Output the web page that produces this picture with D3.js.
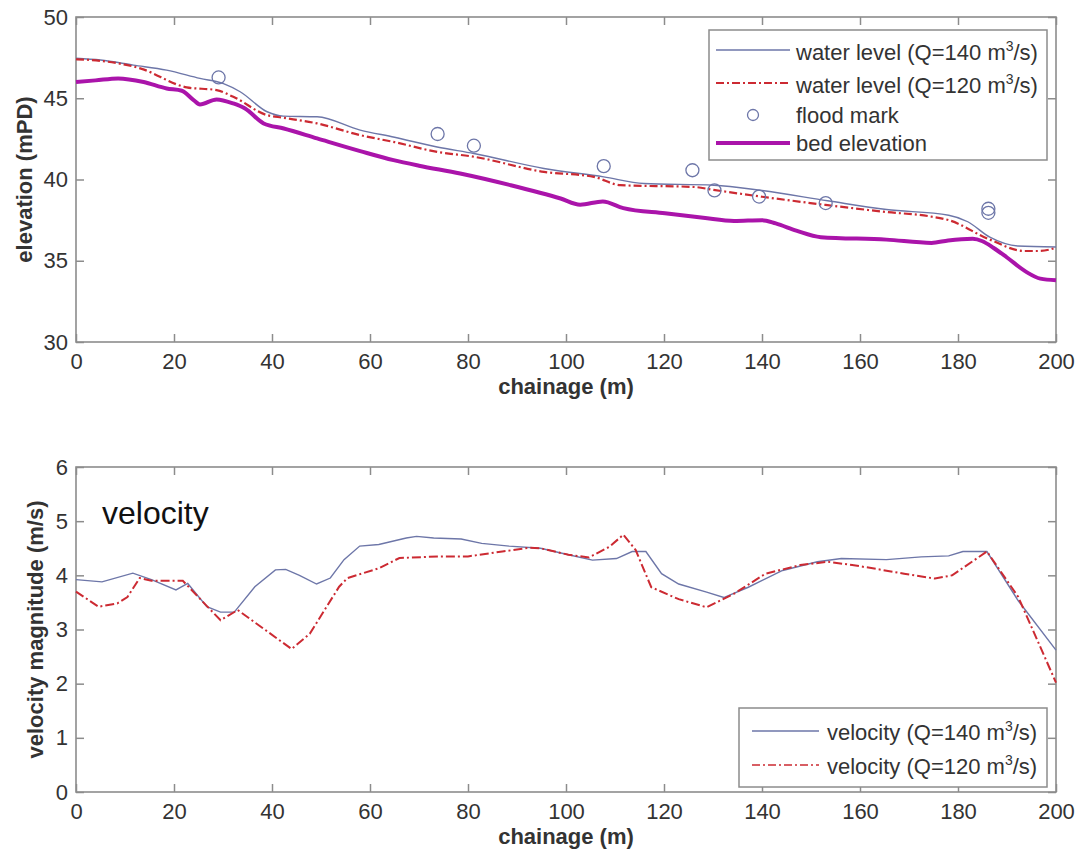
<!DOCTYPE html>
<html>
<head>
<meta charset="utf-8">
<script src="https://cdn.jsdelivr.net/npm/d3@7"></script>
<style>
  html, body { margin: 0; padding: 0; background: #fff; }
  svg { display: block; font-family: "Liberation Sans", Arial, sans-serif; }
</style>
</head>
<body>
<svg id="chart" width="1082" height="857"></svg>
<script>
// ---------------- data ----------------
const chainageTicks = [0, 20, 40, 60, 80, 100, 120, 140, 160, 180, 200];
const elevationTicks = [30, 35, 40, 45, 50];
const velocityTicks = [0, 1, 2, 3, 4, 5, 6];

const bedChainage = [0, 4, 8.6, 13.8, 18.5, 21.6, 24, 25.3, 28.7, 32.1, 34.5, 38.3, 42.4, 49.2, 58, 64.8, 70, 78.4, 88.7, 98.9, 102.9, 107.5, 111.7, 120.2, 128, 134.3, 140, 142.8, 147, 152, 165.4, 174.6, 178, 183, 185, 187.2, 190, 194, 196.8, 200];
const bedElevation = [46.0, 46.1, 46.22, 46.0, 45.6, 45.46, 44.89, 44.62, 44.93, 44.68, 44.37, 43.45, 43.14, 42.53, 41.75, 41.19, 40.85, 40.37, 39.65, 38.83, 38.45, 38.65, 38.24, 37.92, 37.65, 37.45, 37.5, 37.3, 36.85, 36.45, 36.3, 36.1, 36.25, 36.35, 36.2, 35.8, 35.2, 34.3, 33.9, 33.8];

const wl140Chainage = [0, 5, 11.7, 18.5, 25.3, 30.1, 33.5, 39, 42.3, 49.2, 58, 65, 73.7, 81.2, 95.5, 107.7, 115.9, 130.2, 140, 153.4, 165.4, 178.1, 182, 186.5, 192.2, 200];
const wl140Level = [47.46, 47.35, 47.04, 46.73, 46.22, 45.9, 45.4, 44.17, 43.9, 43.86, 43.04, 42.6, 42.0, 41.6, 40.68, 40.16, 39.75, 39.65, 39.32, 38.69, 38.15, 37.8, 37.4, 36.45, 35.91, 35.85];

const wl120Chainage = [0, 5, 13.1, 22.6, 28.7, 32.1, 39, 42.3, 49.2, 58, 65, 73.7, 81.2, 95.5, 105.7, 111.1, 126.1, 130.1, 140, 153.4, 165.4, 174.3, 178.1, 186.5, 193.5, 196.6, 200];
const wl120Level = [47.4, 47.3, 46.84, 45.67, 45.5, 45.09, 43.96, 43.8, 43.45, 42.73, 42.3, 41.7, 41.4, 40.47, 40.16, 39.65, 39.54, 39.36, 38.94, 38.42, 38.0, 37.73, 37.5, 36.3, 35.6, 35.6, 35.8];

const floodChainage = [29.1, 73.8, 81.2, 107.7, 125.8, 130.3, 139.4, 153, 186.2, 186.2];
const floodLevel = [46.28, 42.8, 42.08, 40.82, 40.57, 39.33, 38.95, 38.55, 38.2, 37.95];

const vel140Chainage = [0, 5.3, 11.6, 15.4, 20.4, 22.8, 26.7, 29.5, 32.3, 36.5, 40.7, 42.8, 45.6, 49.1, 51.9, 54.7, 57.9, 61.8, 67.4, 69.5, 73, 78.6, 82.8, 88.4, 94.8, 100.5, 105.4, 110.3, 113.5, 116.3, 119.5, 123, 128.7, 132.2, 137.2, 144.2, 151.3, 156.2, 165.4, 172.5, 178.1, 181, 185.9, 192.3, 200];
const vel140Value = [3.92, 3.88, 4.04, 3.92, 3.73, 3.85, 3.42, 3.32, 3.32, 3.79, 4.1, 4.11, 4.0, 3.84, 3.95, 4.29, 4.54, 4.57, 4.69, 4.72, 4.69, 4.67, 4.59, 4.54, 4.5, 4.38, 4.28, 4.31, 4.44, 4.44, 4.03, 3.84, 3.69, 3.59, 3.78, 4.09, 4.25, 4.31, 4.29, 4.34, 4.36, 4.44, 4.44, 3.53, 2.62];

const vel120Chainage = [0, 4.6, 8.4, 10.5, 13, 15.4, 21.8, 23.9, 29.5, 33, 44, 47.7, 53.7, 55.4, 61.8, 66, 74.4, 80, 87, 92.6, 94.8, 100.5, 104.7, 108.9, 111.7, 114.2, 117.4, 123, 128.7, 134.3, 140.7, 147.8, 153.4, 158.4, 162.6, 169, 175.3, 178.8, 185.9, 192.3, 200];
const vel120Value = [3.70, 3.42, 3.48, 3.6, 3.95, 3.9, 3.9, 3.7, 3.17, 3.36, 2.64, 2.92, 3.79, 3.95, 4.13, 4.32, 4.35, 4.35, 4.44, 4.51, 4.5, 4.38, 4.33, 4.53, 4.75, 4.47, 3.78, 3.56, 3.41, 3.66, 4.03, 4.19, 4.25, 4.19, 4.13, 4.03, 3.94, 4.0, 4.44, 3.6, 2.02];

const topLegendLabels = ["water level (Q=140 ", "water level (Q=120 ", "flood mark", "bed elevation"];
const bottomLegendLabels = ["velocity (Q=140 ", "velocity (Q=120 "];

// ---------------- styles ----------------
const C_BLUE = "#6d76a8";
const C_RED = "#cc2a32";
const C_BED = "#aa14aa";
const C_AXIS = "#8c8c8c";
const C_TEXT = "#333";

const svg = d3.select("#chart");
svg.append("rect").attr("width", 1082).attr("height", 857).attr("fill", "#fff");

const L = 76, R = 1056;
const top1 = 17, bot1 = 342;
const top2 = 467, bot2 = 792;

const x = d3.scaleLinear().domain([0, 200]).range([L, R]);
const yE = d3.scaleLinear().domain([30, 50]).range([bot1, top1]);
const yV = d3.scaleLinear().domain([0, 6]).range([bot2, top2]);

function zip(a, b) { return a.map((v, i) => [v, b[i]]); }

function drawAxes(y, yTicks, top, bot, yTitle, yTitleX) {
  const g = svg.append("g");
  const fmt = d3.format("d");
  const gb = g.append("g").attr("transform", `translate(0,${bot})`)
    .call(d3.axisBottom(x).tickValues(chainageTicks).tickFormat(fmt).tickSizeInner(-8).tickSizeOuter(0).tickPadding(11));
  const gt = g.append("g").attr("transform", `translate(0,${top})`)
    .call(d3.axisTop(x).tickValues(chainageTicks).tickSizeInner(-8).tickSizeOuter(0).tickFormat(""));
  const gl = g.append("g").attr("transform", `translate(${L},0)`)
    .call(d3.axisLeft(y).tickValues(yTicks).tickFormat(fmt).tickSizeInner(-8).tickSizeOuter(0).tickPadding(8));
  const gr = g.append("g").attr("transform", `translate(${R},0)`)
    .call(d3.axisRight(y).tickValues(yTicks).tickSizeInner(-8).tickSizeOuter(0).tickFormat(""));
  [gb, gt, gl, gr].forEach(a => {
    a.select(".domain").remove();
    a.selectAll(".tick line").attr("stroke", C_AXIS).attr("stroke-width", 1.5);
    a.selectAll(".tick text").attr("fill", C_TEXT).style("font-size", "22px")
      .style("font-family", "'Liberation Sans', Arial, sans-serif");
  });
  g.append("rect").attr("x", L).attr("y", top).attr("width", R - L).attr("height", bot - top)
    .attr("fill", "none").attr("stroke", C_AXIS).attr("stroke-width", 1.6);
  g.append("text").attr("x", (L + R) / 2).attr("y", bot + 52).attr("text-anchor", "middle")
    .attr("fill", C_TEXT).style("font-size", "22px").style("font-weight", "bold").text("chainage (m)");
  g.append("text").attr("transform", `translate(${yTitleX},${(top + bot) / 2}) rotate(-90)`)
    .attr("text-anchor", "middle").attr("dominant-baseline", "central")
    .attr("fill", C_TEXT).style("font-size", "22px").style("font-weight", "bold").text(yTitle);
}

// ---------------- top panel ----------------
drawAxes(yE, elevationTicks, top1, bot1, "elevation (mPD)", 24);

const lineE = d3.line().x(d => x(d[0])).y(d => yE(d[1])).curve(d3.curveMonotoneX);
const lineV = d3.line().x(d => x(d[0])).y(d => yV(d[1]));

const plot1 = svg.append("g");
plot1.append("path").datum(zip(bedChainage, bedElevation)).attr("d", lineE)
  .attr("fill", "none").attr("stroke", C_BED).attr("stroke-width", 4).attr("stroke-linejoin", "round");
plot1.append("path").datum(zip(wl140Chainage, wl140Level)).attr("d", lineE)
  .attr("fill", "none").attr("stroke", C_BLUE).attr("stroke-width", 1.4);
plot1.append("path").datum(zip(wl120Chainage, wl120Level)).attr("d", lineE)
  .attr("fill", "none").attr("stroke", C_RED).attr("stroke-width", 2.2).attr("stroke-dasharray", "8,3,2,3");
plot1.selectAll("circle.flood").data(zip(floodChainage, floodLevel)).enter().append("circle")
  .attr("class", "flood").attr("cx", d => x(d[0])).attr("cy", d => yE(d[1])).attr("r", 6.5)
  .attr("fill", "none").attr("stroke", C_BLUE).attr("stroke-width", 1.3);

// top legend
const lg1 = svg.append("g");
lg1.append("rect").attr("x", 709).attr("y", 30).attr("width", 338).attr("height", 130)
  .attr("fill", "#fff").attr("stroke", C_AXIS).attr("stroke-width", 1.5);
const rows1 = [50, 83, 115, 143];
function addLabel(g, xx, yy, label, sup) {
  const t = g.append("text").attr("x", xx).attr("y", yy).attr("fill", C_TEXT).style("font-size", "22px");
  t.append("tspan").text(label);
  if (sup) {
    t.append("tspan").text("m");
    t.append("tspan").attr("dy", -9).style("font-size", "14px").text("3");
    t.append("tspan").attr("dy", 9).text("/s)");
  }
}
lg1.append("line").attr("x1", 716).attr("x2", 790).attr("y1", rows1[0]).attr("y2", rows1[0])
  .attr("stroke", C_BLUE).attr("stroke-width", 1.4);
lg1.append("line").attr("x1", 716).attr("x2", 790).attr("y1", rows1[1]).attr("y2", rows1[1])
  .attr("stroke", C_RED).attr("stroke-width", 2).attr("stroke-dasharray", "8,3,2,3");
lg1.append("circle").attr("cx", 753).attr("cy", rows1[2]).attr("r", 5.5)
  .attr("fill", "none").attr("stroke", C_BLUE).attr("stroke-width", 1.3);
lg1.append("line").attr("x1", 716).attr("x2", 790).attr("y1", rows1[3]).attr("y2", rows1[3])
  .attr("stroke", C_BED).attr("stroke-width", 4);
addLabel(lg1, 796, rows1[0] + 10, topLegendLabels[0], true);
addLabel(lg1, 796, rows1[1] + 10, topLegendLabels[1], true);
addLabel(lg1, 796, rows1[2] + 8, topLegendLabels[2], false);
addLabel(lg1, 796, rows1[3] + 8, topLegendLabels[3], false);

// ---------------- bottom panel ----------------
drawAxes(yV, velocityTicks, top2, bot2, "velocity magnitude (m/s)", 35);

const plot2 = svg.append("g");
plot2.append("path").datum(zip(vel140Chainage, vel140Value)).attr("d", lineV)
  .attr("fill", "none").attr("stroke", C_BLUE).attr("stroke-width", 1.4);
plot2.append("path").datum(zip(vel120Chainage, vel120Value)).attr("d", lineV)
  .attr("fill", "none").attr("stroke", C_RED).attr("stroke-width", 2).attr("stroke-dasharray", "9,3,2,3");

svg.append("text").attr("x", 102).attr("y", 524).attr("fill", "#111")
  .style("font-size", "32px").text("velocity");

const lg2 = svg.append("g");
lg2.append("rect").attr("x", 739).attr("y", 708).attr("width", 308).attr("height", 79)
  .attr("fill", "#fff").attr("stroke", C_AXIS).attr("stroke-width", 1.5);
const rows2 = [731, 765];
lg2.append("line").attr("x1", 752).attr("x2", 819).attr("y1", rows2[0]).attr("y2", rows2[0])
  .attr("stroke", C_BLUE).attr("stroke-width", 1.4);
lg2.append("line").attr("x1", 752).attr("x2", 819).attr("y1", rows2[1]).attr("y2", rows2[1])
  .attr("stroke", C_RED).attr("stroke-width", 1.6).attr("stroke-dasharray", "8,3,2,3");
addLabel(lg2, 827, rows2[0] + 9, bottomLegendLabels[0], true);
addLabel(lg2, 827, rows2[1] + 9, bottomLegendLabels[1], true);
</script>
</body>
</html>
